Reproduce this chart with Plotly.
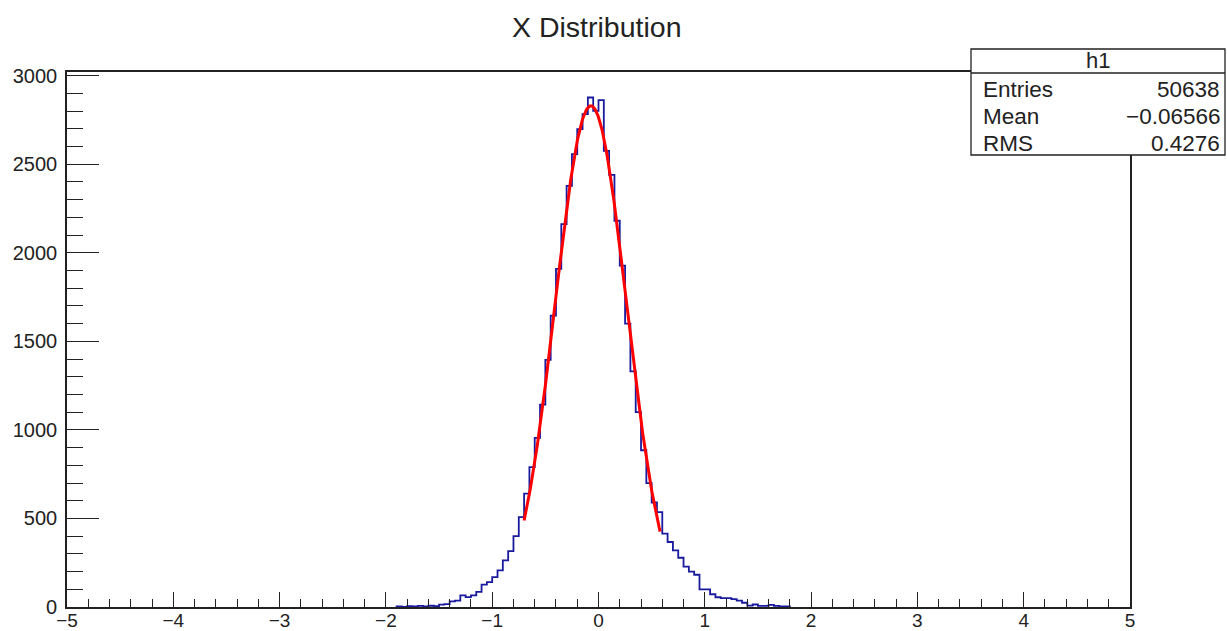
import numpy as np
import plotly.graph_objects as go

# Histogram h1: 200 bins on [-5, 5]; only the filled range is listed here
BIN_WIDTH = 0.05
X_MIN, X_MAX = -5.0, 5.0
FIRST_EDGE = -1.90
counts = [
    4, 0, 5, 3, 6, 4, 7, 5, 13, 16,
    32, 36, 66, 56, 66, 85, 126, 141, 169, 207,
    263, 316, 400, 508, 640, 790, 955, 1143, 1395, 1645,
    1909, 2162, 2378, 2557, 2698, 2783, 2877, 2801, 2862, 2576,
    2440, 2181, 1927, 1600, 1330, 1100, 885, 700, 590, 536,
    414, 367, 320, 278, 228, 200, 182, 100, 100, 72,
    55, 50, 50, 44, 36, 24, 8, 14, 6, 6,
    12, 6, 4, 4,
]

# Gaussian fit parameters and range
fit_const = 2830.0
fit_mean = -0.072
fit_sigma = 0.335
fit_range = (-0.70, 0.58)

# Stats box contents
stats_name = "h1"
stats_rows = [("Entries", "50638"), ("Mean", "\u22120.06566"), ("RMS", "0.4276")]

title_text = "X Distribution"

# ---- histogram outline over the filled bins (step drawn like ROOT's hist) ----
n = len(counts)
edges = FIRST_EDGE + BIN_WIDTH * np.arange(n + 1)
step_x = np.concatenate([[edges[0]], edges[:-1], [edges[-1]]])
step_y = np.concatenate([[0], counts, [0]])

fx = np.linspace(fit_range[0], fit_range[1], 300)
fy = fit_const * np.exp(-0.5 * ((fx - fit_mean) / fit_sigma) ** 2)

y_top = 1.05 * max(counts)

fig = go.Figure()
fig.add_trace(go.Scatter(x=step_x, y=step_y, mode="lines", line_shape="hv",
                         line=dict(color="#1a1a9e", width=1.8), hoverinfo="skip"))
fig.add_trace(go.Scatter(x=fx, y=fy, mode="lines",
                         line=dict(color="#ff0000", width=3), hoverinfo="skip"))

W, H = 1227, 631
L, R, T, B = 67, 1130, 72, 607
FONT = "Liberation Sans, Arial, Helvetica, sans-serif"
INK = "#222222"


def px(xp):
    return (xp - L) / (R - L)


def py(yp):
    return (B - yp) / (B - T)


axis_common = dict(showline=True, linecolor=INK, linewidth=1.6, mirror=True,
                   showgrid=False, zeroline=False, ticks="inside", tickcolor=INK,
                   tickwidth=1.3, layer="above traces", automargin=False)

fig.update_xaxes(range=[X_MIN, X_MAX], dtick=1, tick0=0, ticklen=15,
                 tickfont=dict(family=FONT, size=19, color=INK), ticklabelstandoff=-5,
                 minor=dict(dtick=0.2, ticks="inside", ticklen=8, tickcolor=INK, tickwidth=1.2),
                 **axis_common)
fig.update_yaxes(range=[0, y_top], dtick=500, tick0=0, ticklen=32,
                 tickfont=dict(family=FONT, size=20, color=INK),
                 minor=dict(dtick=100, ticks="inside", ticklen=16, tickcolor=INK, tickwidth=1.2),
                 ticklabelstandoff=4, **axis_common)

shapes = [
    dict(type="rect", xref="paper", yref="paper", x0=px(971), x1=px(1225), y0=py(155), y1=py(49),
         line=dict(color=INK, width=1.3), fillcolor="white", layer="above"),
    dict(type="line", xref="paper", yref="paper", x0=px(971), x1=px(1225), y0=py(73), y1=py(73),
         line=dict(color=INK, width=1.3), layer="above"),
]

annotations = [
    dict(text=title_text, xref="paper", yref="paper", x=px(596), y=py(27), showarrow=False,
         xanchor="center", yanchor="middle", font=dict(family=FONT, size=28.5, color=INK)),
    dict(text=stats_name, xref="paper", yref="paper", x=px(1098), y=py(61), showarrow=False,
         xanchor="center", yanchor="middle", font=dict(family=FONT, size=22, color=INK)),
]
row_y = [89, 116, 143]
for (lab, val), yy in zip(stats_rows, row_y):
    annotations.append(dict(text=lab, xref="paper", yref="paper", x=px(981), y=py(yy), showarrow=False,
                            xanchor="left", yanchor="middle", font=dict(family=FONT, size=22.5, color=INK)))
    annotations.append(dict(text=val, xref="paper", yref="paper", x=px(1222), y=py(yy), showarrow=False,
                            xanchor="right", yanchor="middle", font=dict(family=FONT, size=22.5, color=INK)))

fig.update_layout(width=W, height=H, margin=dict(l=L, r=W - R, t=T, b=H - B),
                  paper_bgcolor="white", plot_bgcolor="white", showlegend=False,
                  shapes=shapes, annotations=annotations)

fig.write_html("out.html", config={"displayModeBar": False})
